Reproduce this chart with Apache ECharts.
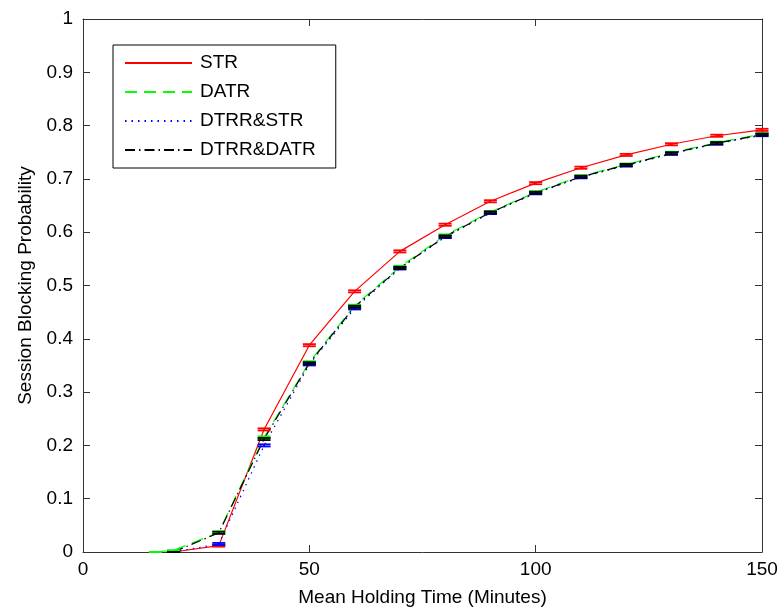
<!DOCTYPE html>
<html>
<head>
<meta charset="utf-8">
<script src="https://cdn.jsdelivr.net/npm/echarts@6/dist/echarts.min.js"></script>
<style>
  html, body { margin: 0; padding: 0; background: #ffffff; }
  #chart { width: 781px; height: 612px; }
</style>
</head>
<body>
<div id="chart"></div>
<script>
// Mean holding time (minutes) for each simulated point
const holdSTR = [20, 30, 40, 50, 60, 70, 80, 90, 100, 110, 120, 130, 140, 150];
const holdDATR = [16, 20, 30, 40, 50, 60, 70, 80, 90, 100, 110, 120, 130, 140, 150];
const holdDTRRSTR = [20, 30, 40, 50, 60, 70, 80, 90, 100, 110, 120, 130, 140, 150];
const holdDTRRDATR = [20, 30, 40, 50, 60, 70, 80, 90, 100, 110, 120, 130, 140, 150];

// Session blocking probability per scheme
const pSTR = [0, 0.012, 0.230, 0.388, 0.489, 0.564, 0.614, 0.658, 0.692, 0.721, 0.745, 0.765, 0.781, 0.792];
const pDATR = [0, 0.003, 0.037, 0.215, 0.356, 0.462, 0.535, 0.594, 0.638, 0.675, 0.705, 0.727, 0.749, 0.768, 0.784];
const pDTRRSTR = [0, 0.015, 0.200, 0.352, 0.457, 0.532, 0.591, 0.636, 0.673, 0.703, 0.725, 0.747, 0.766, 0.782];
const pDTRRDATR = [0, 0.036, 0.212, 0.354, 0.460, 0.533, 0.592, 0.637, 0.674, 0.704, 0.726, 0.748, 0.767, 0.783];

// Half-width of the confidence interval at each point
const eSTR = [0, 0.002, 0.002, 0.002, 0.002, 0.002, 0.002, 0.002, 0.002, 0.002, 0.002, 0.002, 0.002, 0.002];
const eDATR = [0, 0, 0.002, 0.002, 0.002, 0.002, 0.002, 0.002, 0.002, 0.002, 0.002, 0.002, 0.002, 0.002, 0.002];
const eDTRRSTR = [0, 0.002, 0.002, 0.002, 0.002, 0.002, 0.002, 0.002, 0.002, 0.002, 0.002, 0.002, 0.002, 0.002];
const eDTRRDATR = [0, 0.002, 0.002, 0.002, 0.002, 0.002, 0.002, 0.002, 0.002, 0.002, 0.002, 0.002, 0.002, 0.002];

const seriesNames = ['STR', 'DATR', 'DTRR&STR', 'DTRR&DATR'];
const xTicks = [0, 50, 100, 150];

const FONT = 'Liberation Sans, Arial, sans-serif';

const defs = [
  { name: seriesNames[0], x: holdSTR, y: pSTR, e: eSTR, color: '#ff0000', type: 'solid' },
  { name: seriesNames[1], x: holdDATR, y: pDATR, e: eDATR, color: '#00ff00', type: [12, 7] },
  { name: seriesNames[2], x: holdDTRRSTR, y: pDTRRSTR, e: eDTRRSTR, color: '#0000ff', type: [1.5, 5] },
  { name: seriesNames[3], x: holdDTRRDATR, y: pDTRRDATR, e: eDTRRDATR, color: '#000000', type: [10, 4, 1.5, 4] }
];

function zip(xs, ys) { return xs.map((v, i) => [v, ys[i]]); }

// Error bar with short horizontal caps at value +/- half-width
function errorBar(color) {
  return function (params, api) {
    const x = api.value(0);
    const lo = api.coord([x, api.value(1) - api.value(2)]);
    const hi = api.coord([x, api.value(1) + api.value(2)]);
    const w = 6.5;
    const style = { stroke: color, lineWidth: 1.8 };
    return {
      type: 'group',
      children: [
        { type: 'line', shape: { x1: lo[0], y1: lo[1], x2: hi[0], y2: hi[1] }, style: style },
        { type: 'line', shape: { x1: lo[0] - w, y1: lo[1], x2: lo[0] + w, y2: lo[1] }, style: style },
        { type: 'line', shape: { x1: hi[0] - w, y1: hi[1], x2: hi[0] + w, y2: hi[1] }, style: style }
      ]
    };
  };
}

const series = [];
defs.forEach(d => {
  series.push({
    name: d.name,
    type: 'line',
    data: zip(d.x, d.y),
    showSymbol: false,
    symbol: 'none',
    lineStyle: { color: d.color, width: 1.2, type: d.type },
    itemStyle: { color: d.color },
    z: 3,
    animation: false
  });
});
defs.forEach(d => {
  series.push({
    name: d.name + ' CI',
    type: 'custom',
    renderItem: errorBar(d.color),
    data: d.x.map((v, i) => [v, d.y[i], d.e[i]]),
    encode: { x: 0, y: 1 },
    z: 4,
    silent: true,
    animation: false
  });
});

const axisLineStyle = { color: '#333333', width: 1 };

const chart = echarts.init(document.getElementById('chart'), null, { renderer: 'canvas' });
chart.setOption({
  backgroundColor: '#ffffff',
  animation: false,
  grid: { left: 83, right: 19, top: 19, bottom: 59, containLabel: false },
  legend: {
    orient: 'vertical',
    left: 113,
    top: 45,
    padding: [8, 20, 8, 11],
    backgroundColor: '#ffffff',
    borderColor: '#000000',
    borderWidth: 1,
    itemWidth: 67,
    itemHeight: 14,
    itemGap: 9,
    itemStyle: { opacity: 0 },
    textStyle: { fontFamily: FONT, fontSize: 19, color: '#000000', lineHeight: 20, padding: [0, 0, 0, 3] },
    data: defs.map(d => ({ name: d.name, itemStyle: { opacity: 0 } }))
  },
  xAxis: [
    {
      type: 'value', min: xTicks[0], max: xTicks[xTicks.length - 1], interval: 50,
      name: 'Mean Holding Time (Minutes)', nameLocation: 'middle', nameGap: 36,
      nameTextStyle: { fontFamily: FONT, fontSize: 19, color: '#000000' },
      axisLine: { show: true, onZero: false, lineStyle: axisLineStyle },
      axisTick: { show: true, inside: true, length: 7, lineStyle: axisLineStyle },
      axisLabel: { fontFamily: FONT, fontSize: 19, color: '#000000', margin: 8 },
      splitLine: { show: false }
    },
    {
      type: 'value', position: 'top', min: xTicks[0], max: xTicks[xTicks.length - 1], interval: 50,
      axisLine: { show: true, onZero: false, lineStyle: axisLineStyle },
      axisTick: { show: true, inside: true, length: 7, lineStyle: axisLineStyle },
      axisLabel: { show: false },
      splitLine: { show: false }
    }
  ],
  yAxis: [
    {
      type: 'value', min: 0, max: 1, interval: 0.1,
      name: 'Session Blocking Probability', nameLocation: 'middle', nameGap: 48,
      nameTextStyle: { fontFamily: FONT, fontSize: 19, color: '#000000' },
      axisLine: { show: true, onZero: false, lineStyle: axisLineStyle },
      axisTick: { show: true, inside: true, length: 7, lineStyle: axisLineStyle },
      axisLabel: { fontFamily: FONT, fontSize: 19, color: '#000000', margin: 10 },
      splitLine: { show: false }
    },
    {
      type: 'value', position: 'right', min: 0, max: 1, interval: 0.1,
      axisLine: { show: true, onZero: false, lineStyle: axisLineStyle },
      axisTick: { show: true, inside: true, length: 7, lineStyle: axisLineStyle },
      axisLabel: { show: false },
      splitLine: { show: false }
    }
  ],
  series: series
});
</script>
</body>
</html>
